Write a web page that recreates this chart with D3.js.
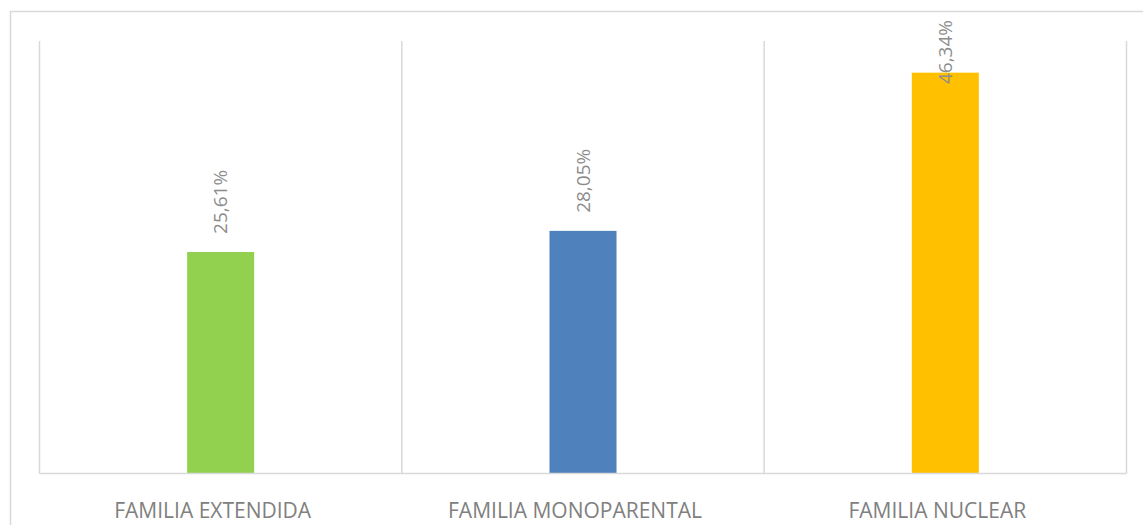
<!DOCTYPE html>
<html>
<head>
<meta charset="utf-8">
<script src="https://cdn.jsdelivr.net/npm/d3@7"></script>
<style>
  html, body { margin: 0; padding: 0; background: #fff; }
  svg { display: block; }
</style>
</head>
<body>
<svg id="chart" width="1143" height="525"></svg>
<script>
// Family-type distribution
const categories = ["FAMILIA EXTENDIDA", "FAMILIA MONOPARENTAL", "FAMILIA NUCLEAR"];
const values = [25.61, 28.05, 46.34];
const colors = ["#92d050", "#4f81bd", "#ffc000"];
const yDomain = [0, 50];

const svg = d3.select("#chart");
const W = 1143, H = 525;
const plot = { left: 39.5, right: 1126.5, top: 41, bottom: 473.5 };

// Outer chart frame (runs off the right/bottom edge)
svg.append("rect")
  .attr("x", 10.5).attr("y", 11.5)
  .attr("width", W + 20).attr("height", H + 20)
  .attr("fill", "none").attr("stroke", "#d9d9d9").attr("stroke-width", 1.5);

const x = d3.scaleBand()
  .domain(categories)
  .range([plot.left, plot.right])
  .paddingInner(0.815)
  .paddingOuter(0.4075);

const y = d3.scaleLinear().domain(yDomain).range([plot.bottom, plot.top]);

// Vertical separators between categories
const step = x.step();
const bounds = d3.range(categories.length + 1).map(i => plot.left + i * step);
svg.append("g").selectAll("line").data(bounds).join("line")
  .attr("x1", d => d).attr("x2", d => d)
  .attr("y1", plot.top).attr("y2", plot.bottom)
  .attr("stroke", "#d9d9d9").attr("stroke-width", 1.5);

// Bars
svg.append("g").selectAll("rect").data(values).join("rect")
  .attr("x", (d, i) => x(categories[i]))
  .attr("width", x.bandwidth())
  .attr("y", d => y(d))
  .attr("height", d => y(0) - y(d))
  .attr("fill", (d, i) => colors[i]);

// Baseline
svg.append("line")
  .attr("x1", plot.left).attr("x2", plot.right)
  .attr("y1", plot.bottom).attr("y2", plot.bottom)
  .attr("stroke", "#d9d9d9").attr("stroke-width", 1.5);

// Rotated value labels, kept inside the chart frame
const fmt = v => v.toFixed(2).replace(".", ",") + "%";
const labels = svg.append("g").selectAll("text").data(values).join("text")
  .attr("font-family", "'Open Sans', sans-serif")
  .attr("font-size", 19)
  .attr("fill", "#8c8c8c")
  .attr("text-anchor", "start")
  .attr("dy", "0.35em")
  .text(d => fmt(d));
labels.each(function(d, i) {
  const len = this.getComputedTextLength();
  const cx = x(categories[i]) + x.bandwidth() / 2;
  const yStart = Math.max(y(d) - 18, 20 + len);
  d3.select(this).attr("transform", `translate(${cx},${yStart}) rotate(-90)`);
});

// Category labels
svg.append("g").selectAll("text").data(categories).join("text")
  .attr("x", d => x(d) + x.bandwidth() / 2 - 8)
  .attr("y", 518)
  .attr("text-anchor", "middle")
  .attr("font-family", "'Open Sans', sans-serif")
  .attr("font-size", 21)
  .attr("fill", "#808080")
  .text(d => d);
</script>
</body>
</html>
